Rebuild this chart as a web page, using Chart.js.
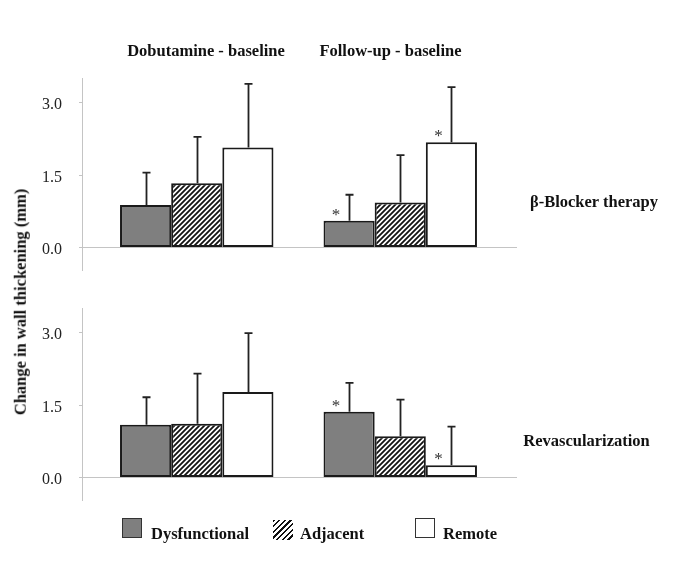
<!DOCTYPE html>
<html>
<head>
<meta charset="utf-8">
<script src="https://cdn.jsdelivr.net/npm/chart.js@4.4.0/dist/chart.umd.min.js"></script>
<style>
  body { margin: 0; background: #fff; }
  #wrap { position: relative; width: 685px; height: 570px; background: #fff; overflow: hidden; }
  canvas { position: absolute; left: 0; }
  .lbl { position: absolute; font-family: "Liberation Serif", "Times New Roman", serif; font-weight: bold;
         font-size: 16.5px; line-height: 1; color: #111; white-space: nowrap; }
  .c { transform: translate(-50%, -50%); }
  .l { transform: translateY(-50%); }
  .box { position: absolute; width: 20px; height: 20px; box-sizing: border-box; }
</style>
</head>
<body>
<div id="wrap">
  <canvas id="topChart" width="685" height="285" style="top:0"></canvas>
  <canvas id="botChart" width="685" height="285" style="top:285px"></canvas>

  <div class="lbl c" style="left:206px; top:50.5px">Dobutamine - baseline</div>
  <div class="lbl c" style="left:390.5px; top:50.5px">Follow-up - baseline</div>
  <div class="lbl c" style="left:594px; top:201.5px">β-Blocker therapy</div>
  <div class="lbl c" style="left:586.5px; top:440.5px">Revascularization</div>
  <div class="lbl c" style="left:20.5px; top:302px; transform: translate(-50%, -50%) rotate(-90deg)">Change in wall thickening (mm)</div>

  <div class="box" style="left:122px; top:518px; background:#7f7f7f; border:1.5px solid #333"></div>
  <div class="lbl l" style="left:151px; top:533.5px">Dysfunctional</div>
  <div class="box" style="left:273px; top:520px; background:repeating-linear-gradient(135deg, #111 0 1.6px, #fff 1.6px 4px)"></div>
  <div class="lbl l" style="left:300px; top:533.5px">Adjacent</div>
  <div class="box" style="left:415px; top:518px; background:#fff; border:1.5px solid #333"></div>
  <div class="lbl l" style="left:443px; top:533.5px">Remote</div>
</div>
<script>
// ---------- Data ----------
const groups = ['Dobutamine - baseline', 'Follow-up - baseline'];
const seriesNames = ['Dysfunctional', 'Adjacent', 'Remote'];

// beta-blocker therapy panel (mean, SD)
const betaDys = [0.87, 0.54];
const betaAdj = [1.32, 0.92];
const betaRem = [2.06, 2.17];
const betaDysSD = [0.67, 0.54];
const betaAdjSD = [0.96, 0.98];
const betaRemSD = [1.32, 1.14];

// revascularization panel (mean, SD)
const revDys = [1.08, 1.35];
const revAdj = [1.10, 0.84];
const revRem = [1.76, 0.24];
const revDysSD = [0.57, 0.60];
const revAdjSD = [1.04, 0.76];
const revRemSD = [1.22, 0.80];

// significance markers, per series per group
const betaStars = [[false, true], [false, false], [false, true]];
const revStars = [[false, true], [false, false], [false, true]];

const yTicks = [0, 1.5, 3.0];
const yMin = -0.5;
const yMax = 3.5;

// ---------- Hatch pattern ----------
function makeHatch() {
    const s = 5;
    const c = document.createElement('canvas');
    c.width = s; c.height = s;
    const g = c.getContext('2d');
    g.fillStyle = '#fff';
    g.fillRect(0, 0, s, s);
    g.strokeStyle = '#111';
    g.lineWidth = 1.8;
    g.beginPath();
    g.moveTo(0, s); g.lineTo(s, 0);
    g.moveTo(-1, 1); g.lineTo(1, -1);
    g.moveTo(s - 1, s + 1); g.lineTo(s + 1, s - 1);
    g.stroke();
    return g.createPattern(c, 'repeat');
}
const hatch = makeHatch();
const fills = ['#7f7f7f', hatch, '#ffffff'];

// ---------- Plugins ----------
const axesPlugin = {
    id: 'axesLines',
    beforeDatasetsDraw(chart) {
        const ctx = chart.ctx;
        const y = chart.scales.y;
        const area = chart.chartArea;
        const y0 = Math.round(y.getPixelForValue(0)) + 0.5;
        ctx.save();
        ctx.strokeStyle = '#c4c4c4';
        ctx.lineWidth = 1;
        ctx.beginPath();
        ctx.moveTo(82.5, area.top);
        ctx.lineTo(82.5, area.bottom);
        ctx.moveTo(82.5, y0);
        ctx.lineTo(517, y0);
        yTicks.forEach(v => {
            const py = Math.round(y.getPixelForValue(v)) + 0.5;
            ctx.moveTo(79, py);
            ctx.lineTo(82.5, py);
        });
        ctx.stroke();
        ctx.restore();
    }
};

const errPlugin = {
    id: 'errBars',
    afterDatasetsDraw(chart) {
        const ctx = chart.ctx;
        const y = chart.scales.y;
        ctx.save();
        chart.data.datasets.forEach((ds, i) => {
            const meta = chart.getDatasetMeta(i);
            meta.data.forEach((bar, j) => {
                const yTop = y.getPixelForValue(ds.data[j] + ds.sd[j]);
                const x = Math.round(bar.x) + 0.5;
                ctx.strokeStyle = '#222';
                ctx.lineWidth = 1.8;
                ctx.beginPath();
                ctx.moveTo(x, bar.y);
                ctx.lineTo(x, yTop);
                ctx.moveTo(x - 4, yTop);
                ctx.lineTo(x + 4, yTop);
                ctx.stroke();
                if (ds.stars[j]) {
                    ctx.fillStyle = '#333';
                    ctx.font = '17px "Liberation Serif", serif';
                    ctx.textAlign = 'center';
                    ctx.textBaseline = 'alphabetic';
                    ctx.fillText('*', bar.x - 13, bar.y - 1);
                }
            });
        });
        ctx.restore();
    }
};

// ---------- Chart builder ----------
function makePanel(id, series, sds, stars, padTop, padBottom) {
    return new Chart(document.getElementById(id), {
        type: 'bar',
        data: {
            labels: groups,
            datasets: series.map((d, i) => ({
                label: seriesNames[i],
                data: d,
                sd: sds[i],
                stars: stars[i],
                backgroundColor: fills[i],
                borderColor: '#1a1a1a',
                borderWidth: 2,
                borderSkipped: false,
                categoryPercentage: 0.754,
                barPercentage: 1.0
            }))
        },
        options: {
            responsive: false,
            animation: false,
            devicePixelRatio: 1,
            layout: { padding: { left: 0, right: 183, top: padTop, bottom: padBottom } },
            plugins: { legend: { display: false }, tooltip: { enabled: false } },
            scales: {
                x: { display: false, offset: true },
                y: {
                    min: yMin,
                    max: yMax,
                    afterFit: s => {
                        s.width = 95;
                        s.paddingTop = 0;
                        s.paddingBottom = 0;
                    },
                    afterBuildTicks: s => { s.ticks = yTicks.map(v => ({ value: v })); },
                    grid: { display: false },
                    border: { display: false },
                    ticks: {
                        padding: 25,
                        labelOffset: 3,
                        color: '#222',
                        font: { family: '"Liberation Serif", serif', size: 16 },
                        callback: v => v.toFixed(1)
                    }
                }
            }
        },
        plugins: [axesPlugin, errPlugin]
    });
}

makePanel('topChart', [betaDys, betaAdj, betaRem], [betaDysSD, betaAdjSD, betaRemSD], betaStars, 78, 14);
makePanel('botChart', [revDys, revAdj, revRem], [revDysSD, revAdjSD, revRemSD], revStars, 23, 69);
</script>
</body>
</html>
